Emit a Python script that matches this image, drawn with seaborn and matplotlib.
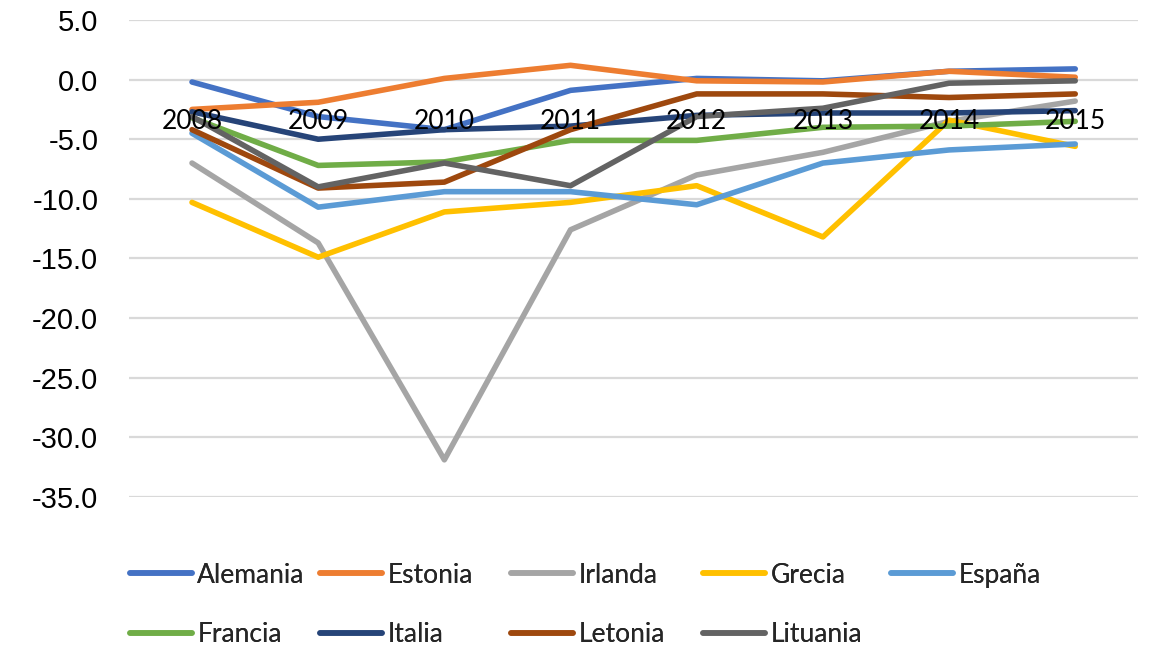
import numpy as np
import pandas as pd
import matplotlib
matplotlib.use("Agg")
import matplotlib.pyplot as plt
import seaborn as sns
from matplotlib.lines import Line2D

# saldo presupuestario (% PIB)
years = [2008, 2009, 2010, 2011, 2012, 2013, 2014, 2015]
alemania = [-0.2, -3.1, -4.2, -0.9, 0.1, -0.1, 0.7, 0.9]
estonia = [-2.5, -1.9, 0.1, 1.2, -0.1, -0.2, 0.7, 0.2]
irlanda = [-7.0, -13.7, -31.9, -12.6, -8.0, -6.1, -3.5, -1.8]
grecia = [-10.3, -14.9, -11.1, -10.3, -8.9, -13.2, -3.4, -5.6]
espana = [-4.5, -10.7, -9.4, -9.4, -10.5, -7.0, -5.9, -5.4]
francia = [-3.2, -7.2, -6.9, -5.1, -5.1, -4.0, -3.9, -3.5]
italia = [-2.7, -5.0, -4.2, -3.9, -3.0, -2.8, -2.8, -2.6]
letonia = [-4.2, -9.1, -8.6, -4.2, -1.2, -1.2, -1.5, -1.2]
lituania = [-3.1, -9.0, -7.0, -8.9, -3.1, -2.4, -0.3, -0.1]

countries = ["Alemania", "Estonia", "Irlanda", "Grecia", "España",
             "Francia", "Italia", "Letonia", "Lituania"]
series = [alemania, estonia, irlanda, grecia, espana,
          francia, italia, letonia, lituania]
colors = ["#4472C4", "#ED7D31", "#A5A5A5", "#FFC000", "#5B9BD5",
          "#70AD47", "#264478", "#9E480E", "#636363"]
palette = dict(zip(countries, colors))

df = pd.DataFrame({
    "year": np.tile(years, len(countries)),
    "pais": np.repeat(countries, len(years)),
    "valor": np.concatenate(series),
})

sns.set_theme(style="white")
plt.rcParams["font.family"] = ["Liberation Sans", "DejaVu Sans"]

fig = plt.figure(figsize=(11.51, 6.46), dpi=100)
ax = fig.add_axes([0.112, 0.231, 0.877, 0.738])

sns.lineplot(data=df, x="year", y="valor", hue="pais", hue_order=countries,
             palette=palette, linewidth=4, legend=False, ax=ax,
             solid_capstyle="round", solid_joinstyle="round")

ax.set_xlim(2007.5, 2015.5)
ax.set_ylim(-35, 5)
ax.set_yticks(np.arange(-35, 5.1, 5))
ax.set_yticklabels([f"{v:.1f}" for v in np.arange(-35, 5.1, 5)], fontsize=21)
ax.grid(axis="y", color="#D9D9D9", linewidth=1.6)
ax.set_axisbelow(True)
for s in ax.spines.values():
    s.set_visible(False)

# category labels sit next to the zero line, like Excel, drawn over the lines
ax.spines["bottom"].set_position(("data", 0))
ax.set_xticks(years)
ax.set_xticklabels([str(y) for y in years], fontsize=19, family=["Lato", "DejaVu Sans"],
                   color="black")
ax.xaxis.set_zorder(5)
ax.tick_params(axis="x", length=0, pad=21)
ax.tick_params(axis="y", length=0, pad=22, labelcolor="black")
ax.set_xlabel("")
ax.set_ylabel("")

# legend: one small legend per column so columns are evenly spaced
handles = [Line2D([], [], color=c, linewidth=4, solid_capstyle="round") for c in colors]
col_x = [0.113, 0.278, 0.444, 0.611, 0.774]
for i, x in enumerate(col_x):
    idx = [j for j in (i, i + 5) if j < len(countries)]
    leg = fig.legend([handles[j] for j in idx], [countries[j] for j in idx],
                     loc="upper left", bbox_to_anchor=(x, 0.129), frameon=False,
                     borderpad=0, borderaxespad=0, handlelength=2.35,
                     handletextpad=0.2, labelspacing=1.32,
                     prop={"family": ["Lato", "DejaVu Sans"], "size": 19})
    fig.add_artist(leg)

fig.savefig("out.png", dpi=100)
